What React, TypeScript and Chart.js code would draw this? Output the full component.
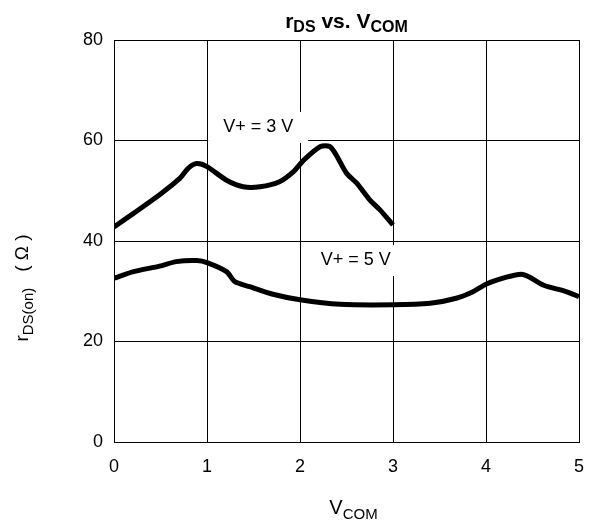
import React, { useEffect, useRef } from "react";
import { Chart, registerables } from "chart.js";

Chart.register(...registerables);

// V+ = 3 V curve
const v3X = [0, 0.21, 0.49, 0.71, 0.8, 0.89, 1.0, 1.21, 1.39, 1.57, 1.78, 1.93, 2.04, 2.22, 2.32, 2.39, 2.5, 2.61, 2.75, 2.86, 3.0];
const v3Y = [42.8, 45.5, 49.2, 52.5, 54.5, 55.4, 54.8, 52.1, 50.8, 50.8, 51.8, 53.8, 56.1, 58.8, 58.8, 57.1, 53.5, 51.5, 48.2, 46.2, 43.2];

// V+ = 5 V curve
const v5X = [0, 0.21, 0.49, 0.67, 0.89, 1.0, 1.21, 1.3, 1.46, 1.71, 2.0, 2.43, 3.0, 3.4, 3.68, 3.86, 4.0, 4.22, 4.38, 4.47, 4.62, 4.87, 5.0];
const v5Y = [32.6, 33.9, 35.0, 35.9, 36.1, 35.7, 33.9, 31.9, 30.9, 29.4, 28.3, 27.4, 27.3, 27.6, 28.6, 29.9, 31.4, 32.8, 33.4, 32.8, 31.2, 29.9, 28.9];

const xTicks = [0, 1, 2, 3, 4, 5];
const yTicks = [0, 20, 40, 60, 80];

const labelTexts = ["V+ = 3 V", "V+ = 5 V"];
const labelX = [1.55, 2.6];
const labelY = [62.7, 36.2];

type Part = { t: string; sub?: boolean };

function richWidth(ctx: CanvasRenderingContext2D, parts: Part[], main: string, sub: string) {
  let w = 0;
  for (const p of parts) {
    ctx.font = p.sub ? sub : main;
    w += ctx.measureText(p.t).width;
  }
  return w;
}

function drawRich(ctx: CanvasRenderingContext2D, parts: Part[], cx: number, y: number, main: string, sub: string, subOff: number) {
  const w = richWidth(ctx, parts, main, sub);
  let x = cx - w / 2;
  ctx.textAlign = "left";
  ctx.textBaseline = "alphabetic";
  for (const p of parts) {
    ctx.font = p.sub ? sub : main;
    ctx.fillText(p.t, x, p.sub ? y + subOff : y);
    x += ctx.measureText(p.t).width;
  }
}

const FONT = "'Liberation Sans', Arial, sans-serif";

const decorPlugin = {
  id: "decor",
  beforeDatasetsDraw(chart: any) {
    const ctx = chart.ctx as CanvasRenderingContext2D;
    const xs = chart.scales.x;
    const ys = chart.scales.y;
    ctx.save();
    ctx.font = `18px ${FONT}`;
    for (let i = 0; i < labelTexts.length; i++) {
      const px = xs.getPixelForValue(labelX[i]);
      const py = ys.getPixelForValue(labelY[i]);
      ctx.fillStyle = "#fff";
      ctx.fillRect(px - 50, py - 15, 100, 31);
      ctx.fillStyle = "#000";
      ctx.textAlign = "center";
      ctx.textBaseline = "middle";
      ctx.fillText(labelTexts[i], px, py);
    }
    ctx.restore();
  },
  afterDraw(chart: any) {
    const ctx = chart.ctx as CanvasRenderingContext2D;
    const a = chart.chartArea;
    const cx = (a.left + a.right) / 2;
    ctx.save();
    ctx.fillStyle = "#000";
    drawRich(
      ctx,
      [{ t: "r" }, { t: "DS", sub: true }, { t: " vs. V" }, { t: "COM", sub: true }],
      cx,
      28,
      `bold 21px ${FONT}`,
      `bold 16px ${FONT}`,
      4
    );
    drawRich(ctx, [{ t: "V" }, { t: "COM", sub: true }], cx + 7, 514, `20px ${FONT}`, `15px ${FONT}`, 5);
    ctx.translate(28, 288);
    ctx.rotate(-Math.PI / 2);
    drawRich(
      ctx,
      [{ t: "r" }, { t: "DS(on)", sub: true }, { t: "   ( Ω )" }],
      0,
      0,
      `19px ${FONT}`,
      `15px ${FONT}`,
      5
    );
    ctx.restore();
  },
};

export default function App() {
  const ref = useRef<HTMLCanvasElement | null>(null);
  useEffect(() => {
    if (!ref.current) return;
    const chart = new Chart(ref.current, {
      type: "line",
      data: {
        datasets: [
          {
            label: "V+ = 3 V",
            data: v3X.map((x, i) => ({ x, y: v3Y[i] })),
            borderColor: "#000",
            borderWidth: 5,
            pointRadius: 0,
            tension: 0.25,
            fill: false,
          },
          {
            label: "V+ = 5 V",
            data: v5X.map((x, i) => ({ x, y: v5Y[i] })),
            borderColor: "#000",
            borderWidth: 5,
            pointRadius: 0,
            tension: 0.25,
            fill: false,
          },
        ],
      },
      options: {
        responsive: false,
        animation: false,
        devicePixelRatio: 1,
        layout: { padding: { left: 0, right: 14, top: 40, bottom: 0 } },
        plugins: { legend: { display: false }, tooltip: { enabled: false }, title: { display: false } },
        scales: {
          x: {
            type: "linear",
            min: 0,
            max: 5,
            afterBuildTicks: (s: any) => {
              s.ticks = xTicks.map((v) => ({ value: v }));
            },
            afterFit: (s: any) => {
              s.height = 83;
              s.paddingRight = 0;
              s.paddingLeft = 0;
            },
            grid: { color: "#000", lineWidth: 1, drawTicks: false },
            border: { color: "#000", width: 1 },
            ticks: { color: "#000", font: { family: FONT, size: 18 }, padding: 14, maxRotation: 0 },
          },
          y: {
            type: "linear",
            min: 0,
            max: 80,
            afterBuildTicks: (s: any) => {
              s.ticks = yTicks.map((v) => ({ value: v }));
            },
            afterFit: (s: any) => {
              s.width = 114;
              s.paddingTop = 0;
              s.paddingBottom = 0;
            },
            grid: { color: "#000", lineWidth: 1, drawTicks: false },
            border: { color: "#000", width: 1 },
            ticks: { color: "#000", font: { family: FONT, size: 18 }, padding: 11 },
          },
        },
      },
      plugins: [decorPlugin],
    });
    return () => chart.destroy();
  }, []);
  return (
    <div style={{ position: "absolute", left: 0, top: 0, width: 593, height: 525, background: "#fff" }}>
      <canvas ref={ref} width={593} height={525} style={{ display: "block" }} />
    </div>
  );
}
